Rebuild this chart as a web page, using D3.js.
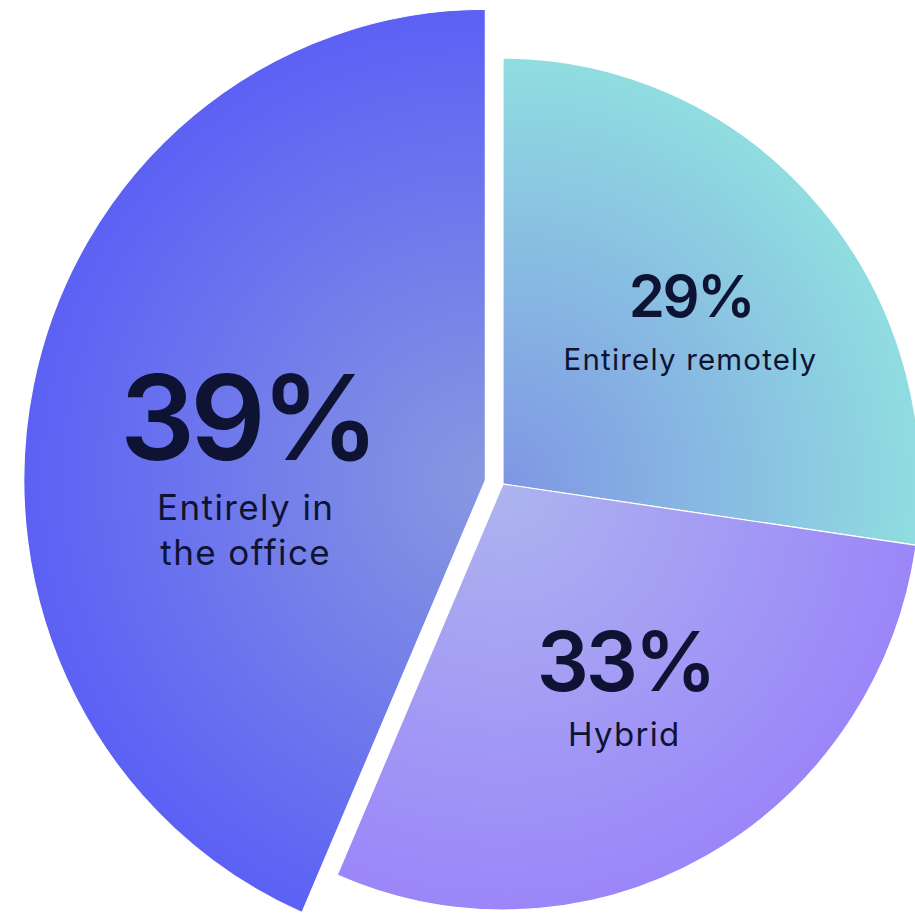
<!DOCTYPE html>
<html><head><meta charset="utf-8">
<script src="https://cdn.jsdelivr.net/npm/d3@7"></script>
<style>html,body{margin:0;padding:0;background:#fff;} svg{display:block;}</style>
</head><body><div id="chart"></div>
<script>
// ---- data ----
const categories = ["Entirely remotely", "Hybrid", "Entirely in the office"];
const labelLines = [["Entirely remotely"], ["Hybrid"], ["Entirely in", "the office"]];
const percentages = [29, 33, 39];
// angular share of each slice as drawn in the picture
const sliceShares = [27.3, 29.2, 43.5];
const highlighted = ["Entirely in the office"];

// ---- layout / style ----
const W = 915, H = 916;
const cx = 503, cy = 484, sx = 0.98;
const baseR = 426, bigR = 471, explode = 18.4, labelR = 240;
const gradStops = [["#7f96e4", "#90dde0"], ["#adb4ef", "#9b86f9"], ["#8898e0", "#5c61f5"]];
const labelNudge = [[9, -10], [6, -3], [-10, 28]];
const textColor = "#0e1333";
const fontFamily = "Inter, 'Noto Sans', sans-serif";

const numSize = d3.scaleLinear().domain([29, 39]).range([58, 118]);
const subSize = d3.scaleLinear().domain([29, 33, 39]).range([29.5, 33, 35]);

const data = categories.map((c, i) => ({category: c, pct: percentages[i], share: sliceShares[i], lines: labelLines[i], i}));
const pie = d3.pie().sort(null).value(d => d.share);
const arcs = pie(data);

const svg = d3.select("#chart").append("svg").attr("width", W).attr("height", H);
const defs = svg.append("defs");
const pieG = svg.append("g").attr("transform", `translate(${cx},${cy}) scale(${sx},1)`);
const labelG = svg.append("g");

arcs.forEach((a, k) => {
  const d = a.data;
  const big = highlighted.includes(d.category);
  const r = big ? bigR : baseR;
  const mid = (a.startAngle + a.endAngle) / 2;
  const off = big ? explode : 0;
  const ox = Math.sin(mid) * off, oy = -Math.cos(mid) * off;

  const gid = "grad" + k;
  const grad = defs.append("radialGradient").attr("id", gid)
    .attr("gradientUnits", "userSpaceOnUse").attr("cx", 0).attr("cy", 0).attr("r", r);
  grad.append("stop").attr("offset", "0%").attr("stop-color", gradStops[k][0]);
  grad.append("stop").attr("offset", "100%").attr("stop-color", gradStops[k][1]);

  pieG.append("g").attr("transform", `translate(${ox},${oy})`)
    .append("path")
    .attr("d", d3.arc().innerRadius(0).outerRadius(r)(a))
    .attr("fill", `url(#${gid})`)
    .attr("stroke", "#fff").attr("stroke-width", 1.2);

  const lx = cx + sx * (ox + Math.sin(mid) * labelR) + labelNudge[k][0];
  const ly = cy + oy - Math.cos(mid) * labelR + labelNudge[k][1];
  const ns = numSize(d.pct), ss = subSize(d.pct);
  const gap = 46 + 0.12 * ns;
  const ls = -0.04 * ns;

  labelG.append("text").attr("x", lx - ls / 2).attr("y", ly)
    .attr("text-anchor", "middle").attr("fill", textColor)
    .attr("font-family", fontFamily).attr("font-weight", 600)
    .attr("font-size", ns).attr("letter-spacing", ls)
    .text(d.pct + "%");
  d.lines.forEach((line, j) => {
    labelG.append("text").attr("x", lx + 0.02 * ss).attr("y", ly + gap + j * 45)
      .attr("text-anchor", "middle").attr("fill", textColor)
      .attr("font-family", fontFamily).attr("font-weight", 400)
      .attr("font-size", ss).attr("letter-spacing", 0.04 * ss)
      .text(line);
  });
});
</script>
</body></html>
